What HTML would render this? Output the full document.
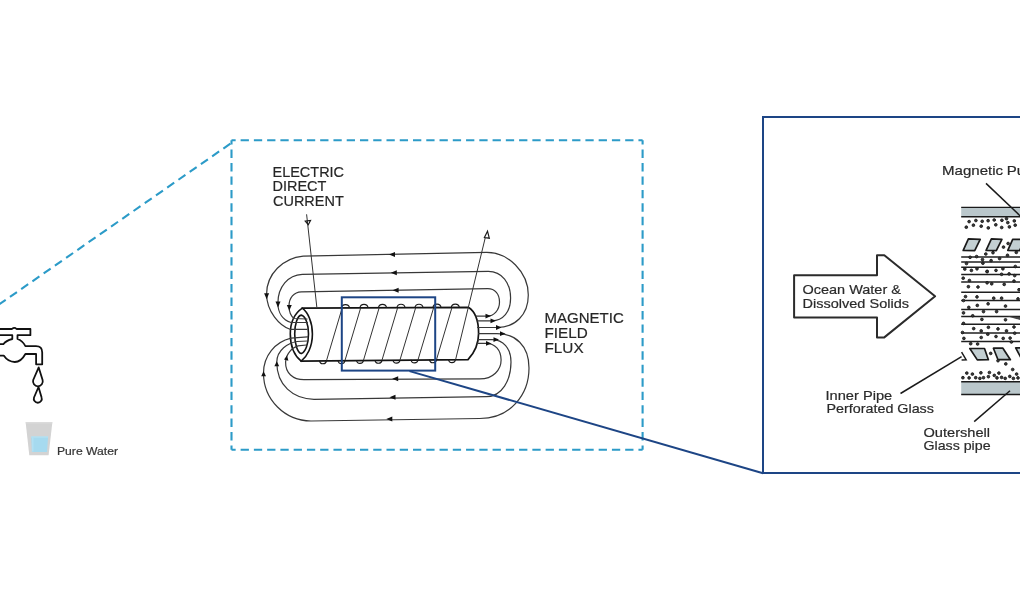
<!DOCTYPE html>
<html><head><meta charset="utf-8"><style>
html,body{margin:0;padding:0;background:#fff;width:1020px;height:610px;overflow:hidden}
svg{display:block;will-change:transform}
text{font-family:"Liberation Sans",sans-serif;stroke:#2a2a2a;stroke-width:0.2}
</style></head><body>
<svg width="1020" height="610" viewBox="0 0 1020 610">
<!-- cyan dashed callout -->
<g stroke="#2c9bc8" stroke-width="2.1" fill="none">
<line x1="230.6" y1="143.5" x2="-5" y2="307.3" stroke-dasharray="8.5 5.18" stroke-dashoffset="-0.3"/>
<line x1="231.5" y1="140.3" x2="642.6" y2="140.3" stroke-dasharray="8.288 4.973" stroke-dashoffset="4.144"/>
<line x1="231.5" y1="140.3" x2="231.5" y2="449.7" stroke-dasharray="8.408 5.045" stroke-dashoffset="4.204"/>
<line x1="642.6" y1="140.3" x2="642.6" y2="449.7" stroke-dasharray="8.408 5.045" stroke-dashoffset="4.204"/>
<line x1="231.5" y1="449.7" x2="642.6" y2="449.7" stroke-dasharray="8.288 4.973" stroke-dashoffset="4.144"/>
</g>
<!-- faucet -->
<g stroke="#111" stroke-width="1.8" fill="none" stroke-linejoin="round">
<path d="M0,329 L12,329 Q14.3,326.6 16.6,329 L30.4,329 L30.4,335.2 L17.5,335.2 L17.5,339 Q22.5,340.5 25.4,346.2 L36,346.2 Q42.2,346.2 42.2,352.5 L42.2,364.3 L36.1,364.3 L36.1,354 L25.4,354 Q21,362 14.8,362 Q8,362 3.7,355.6 L0,355.6"/>
<path d="M0,335.2 L12.3,335.2 L12.3,339 Q6,340.5 3.3,344.2 L0,344.2"/>
<path d="M38.7,367.4 L42.6,380 A4.9,4.9 0 1 1 33.2,380 Z"/>
<path d="M38.5,387 L41.6,397.5 A4,4 0 1 1 34,397.5 Z"/>
</g>
<!-- glass -->
<path d="M25.6,422.1 L52.4,422.1 L48.6,455.3 L29.3,455.3 Z" fill="#d3d3d3"/>
<rect x="25.8" y="422.1" width="26.4" height="1.4" fill="#dcdcdc"/>
<path d="M31.2,436.5 L48.1,436.5 L47,452 L31.9,452 Z" fill="#a6daef"/>
<rect x="31.2" y="436.5" width="16.9" height="1" fill="#b9e3f4"/>
<rect x="32.2" y="437.5" width="1.2" height="14" fill="#b6e2f4"/>

<!-- coil diagram -->
<!-- pipe body (white fill) -->
<g stroke="#141414" stroke-width="1.7" fill="#fff">
<path d="M302.3,308.2 L468.3,307.3 C476,312 478.6,322 478.6,333.4 C478.6,344 475,352 468,359.6 L301.2,361.2 Z"/>
</g>
<g stroke="#141414" stroke-width="1.6" fill="none">
<path d="M302.3,308.2 C308,312.5 312.4,322 312.4,334 C312.4,347 307,356.5 301.2,361.2 C295.5,356.5 290.3,347 290.3,334 C290.3,321 296,312.5 302.3,308.2 Z" fill="#fff"/>
<path d="M301.3,315.1 C305.2,315.8 308.5,324 308.5,334 C308.5,344 305.5,352 301.2,353.6 C297.5,352.5 294.7,344 294.7,334 C294.7,324 297.5,315.6 301.3,315.1 Z"/>
</g>
<g stroke="#383838" stroke-width="1.2" fill="none" stroke-linecap="round">
<!-- top field loops -->
<path d="M307,329.3 L290,329.3 C280,326 266.6,312 266.6,294 C266.6,274 283,258 303.2,256.1 L486.8,252.3 C508,252.3 528.3,272 528.3,295 C528.3,315 515,327.5 497,327.5 L477.5,327.5"/>
<path d="M307.5,322.5 L291,322.5 C283,320 277.9,313 277.9,303 C277.9,287 288,275 302.3,274.4 L488.3,271.3 C502,271.3 510.6,283 510.6,298 C510.6,312 503,320.8 491.9,320.8 L477,320.8"/>
<path d="M307,319 L294,318.5 C291,316 289,312 289,306 C289,298 294,292 301.3,291.8 L487.8,288.7 C495,288.7 499.5,294 499.5,302 C499.5,310 494,316.1 487,316.1 L476,316.1"/>
<!-- bottom field loops -->
<path d="M307.5,336.8 L291,338.2 C275,342 263.5,356 263.5,373 C263.5,400 285,420.7 311,421 L479.8,418.5 C510,418.5 529,395 529,368 C529,345 515,333.7 497,333.7 L478.5,333.7"/>
<path d="M307.5,341 L297,341.5 C288,343 277,350 276.8,362 C276.6,385 293,399 314,399.3 L486.4,396.6 C502,396.6 511,380 511,362 C511,348 503,339.6 492,339.6 L478,339.6"/>
<path d="M306.5,345 L298,345.8 C292,347.5 286,354 285.6,362 C285.3,373 293,379.7 304,379.7 L479.8,378.9 C493,378.9 501.1,370 501.1,360 C501.1,350 495,343.3 486,343.3 L477,343.3"/>
</g>
<!-- windings -->
<g stroke="#333" stroke-width="1" fill="none">
<line x1="326.5" y1="360.6" x2="342.2" y2="307.9"/>
<line x1="345" y1="360.4" x2="360.7" y2="307.8"/>
<line x1="363.5" y1="360.2" x2="379.2" y2="307.7"/>
<line x1="382" y1="360.1" x2="397.7" y2="307.6"/>
<line x1="400" y1="359.9" x2="415.7" y2="307.6"/>
<line x1="418" y1="359.8" x2="433.7" y2="307.5"/>
<line x1="436.5" y1="359.6" x2="452.0" y2="307.4"/>
<line x1="455.5" y1="360" x2="485.2" y2="238"/>
<line x1="306.6" y1="214.3" x2="316.8" y2="307"/>
</g>
<g stroke="#1a1a1a" stroke-width="1.2" fill="none">
<path d="M341.5,307.9 C342.0,303.4 349.0,303.4 349.5,307.9 M360,307.8 C360.5,303.3 367.5,303.3 368,307.8 M378.5,307.7 C379.0,303.2 386.0,303.2 386.5,307.7 M397,307.6 C397.5,303.1 404.5,303.1 405,307.6 M415,307.6 C415.5,303.1 422.5,303.1 423,307.6 M433,307.5 C433.5,303.0 440.5,303.0 441,307.5 M451.3,307.4 C451.8,302.9 458.8,302.9 459.3,307.4 M319.5,360.6 C320.0,364.8 326.0,364.8 326.5,360.6 M338,360.5 C338.5,364.7 344.5,364.7 345,360.5 M356.5,360.3 C357.0,364.5 363.0,364.5 363.5,360.3 M375,360.1 C375.5,364.3 381.5,364.3 382,360.1 M393,360.0 C393.5,364.2 399.5,364.2 400,360.0 M411,359.8 C411.5,364.0 417.5,364.0 418,359.8 M429.5,359.6 C430.0,363.8 436.0,363.8 436.5,359.6 M448.5,359.5 C449.0,363.7 455.0,363.7 455.5,359.5"/>
<!-- open arrowheads -->
<path d="M305.3,221.2 L310.5,220.5 L308.3,224.7 Z"/>
<path d="M487.5,231.2 L484.4,237.6 L489.3,238.2 Z"/>
</g>
<!-- filled arrows -->
<g fill="#111">
<path d="M389,254.5 l6,-2.5 l0,5 z"/>
<path d="M390.8,272.8 l6,-2.5 l0,5 z"/>
<path d="M392.6,290.2 l6,-2.5 l0,5 z"/>
<path d="M386.3,418.9 l6,-2.5 l0,5 z"/>
<path d="M389.5,397.2 l6,-2.5 l0,5 z"/>
<path d="M392.2,378.7 l6,-2.5 l0,5 z"/>
<path d="M266.6,299.3 l-2.5,-6 l5,0 z"/>
<path d="M278,307.4 l-2.5,-6 l5,0 z"/>
<path d="M289.3,310.6 l-2.5,-5.5 l5,0 z"/>
<path d="M263.6,371.2 l-2.4,5 l4.8,0 z"/>
<path d="M276.8,361.2 l-2.4,5 l4.8,0 z"/>
<path d="M287,355.4 l-3,4.2 l4.4,1.2 z"/>
<path d="M491,316.1 l-5.5,-2.4 l0,4.8 z"/>
<path d="M496,320.8 l-5.5,-2.4 l0,4.8 z"/>
<path d="M501.5,327.5 l-5.5,-2.4 l0,4.8 z"/>
<path d="M505.5,333.7 l-5.5,-2.4 l0,4.8 z"/>
<path d="M499,339.6 l-5.5,-2.4 l0,4.8 z"/>
<path d="M491.5,343.4 l-5.5,-2.4 l0,4.8 z"/>
</g>

<!-- navy callout -->
<g stroke="#1d4585" stroke-width="2" fill="none">
<rect x="341.8" y="297.3" width="93.4" height="73.3"/>
<line x1="409.5" y1="371.1" x2="763" y2="473.3"/>
<polyline points="1030,117 763,117 763,473 1030,473"/>
</g>

<!-- big arrow -->
<path d="M794.1,275.2 L877,275.2 L877,255.3 L884.3,255.3 L935.1,296.3 L884.3,337.4 L877,337.4 L877,317.6 L794.1,317.6 Z" fill="none" stroke="#2b2b2b" stroke-width="2" stroke-linejoin="round"/>

<!-- pipe section -->
<rect x="961.2" y="207.3" width="70" height="9.4" fill="#bac7cb"/>
<rect x="961.2" y="381.8" width="70" height="12.9" fill="#bac7cb"/>
<g stroke="#1a1a1a" fill="none">
<line x1="961.2" y1="207.4" x2="1020" y2="207.4" stroke-width="1.2"/>
<line x1="961.2" y1="216.7" x2="1020" y2="216.7" stroke-width="1.6"/>
<line x1="961.2" y1="381.7" x2="1020" y2="381.7" stroke-width="1.5"/>
<line x1="961.2" y1="394.6" x2="1020" y2="394.6" stroke-width="1.5"/>
</g>
<g stroke="#1f1f1f" stroke-width="1.5">
<line x1="961.2" y1="257" x2="1020" y2="257"/>
<line x1="961.2" y1="262" x2="1020" y2="262"/>
<line x1="961.2" y1="267.3" x2="1020" y2="267.3"/>
<line x1="961.2" y1="274.5" x2="1020" y2="274.5"/>
<line x1="961.2" y1="282.1" x2="1020" y2="282.1"/>
<line x1="961.2" y1="292.3" x2="1020" y2="292.3"/>
<line x1="961.2" y1="300.5" x2="1020" y2="300.5"/>
<line x1="961.2" y1="309.5" x2="1020" y2="309.5"/>
<line x1="961.2" y1="316.5" x2="1020" y2="316.5"/>
<line x1="961.2" y1="324.3" x2="1020" y2="324.3"/>
<line x1="961.2" y1="332.9" x2="1020" y2="332.9"/>
<line x1="961.2" y1="341.4" x2="1020" y2="341.4"/>
</g>
<path d="M1007,316.3 L1020,317 L1020,320 Z" fill="#444"/>
<g fill="#c3cfd2" stroke="#1a1a1a" stroke-width="1.7" stroke-linejoin="round">
<path d="M968.4,238.9 L980.2,239.4 L974.7,250.6 L963.2,250.4 Z"/>
<path d="M991.4,238.9 L1001.9,239.3 L996.3,250.6 L986.1,250.4 Z"/>
<path d="M1012.7,239.3 L1025,239.3 L1019.5,250.6 L1007.8,250.4 Z"/>
<path d="M969.8,348.5 L984.5,348.5 L988.4,359.7 L977.3,359.9 Z"/>
<path d="M993.4,348.2 L1002.9,348.2 L1010.4,359.7 L998,359.7 Z"/>
<path d="M1015.7,347.9 L1026,347.9 L1030,359.7 L1022,359.7 Z"/>
</g>
<path d="M961.6,352.1 L966.1,359.7 L961.6,359.9" fill="none" stroke="#1a1a1a" stroke-width="1.5"/>
<g fill="#3a3a3a" stroke="#1a1a1a" stroke-width="0.9">
<circle cx="969.1" cy="221.6" r="1.35"/>
<circle cx="975.9" cy="220.5" r="1.35"/>
<circle cx="982.2" cy="221.3" r="1.35"/>
<circle cx="988.1" cy="220.7" r="1.35"/>
<circle cx="994.2" cy="220" r="1.35"/>
<circle cx="1001.9" cy="220.3" r="1.35"/>
<circle cx="1006.5" cy="218.7" r="1.35"/>
<circle cx="1014.3" cy="220.9" r="1.35"/>
<circle cx="966.3" cy="227.2" r="1.35"/>
<circle cx="973.4" cy="225.2" r="1.35"/>
<circle cx="981.2" cy="226.2" r="1.35"/>
<circle cx="988.3" cy="227.9" r="1.35"/>
<circle cx="995.8" cy="224.8" r="1.35"/>
<circle cx="1001.7" cy="227.5" r="1.35"/>
<circle cx="1007.8" cy="222.6" r="1.35"/>
<circle cx="1009.4" cy="226.9" r="1.35"/>
<circle cx="1015.2" cy="225.2" r="1.35"/>
<circle cx="970.1" cy="257.3" r="1.35"/>
<circle cx="976.6" cy="256.6" r="1.35"/>
<circle cx="985.8" cy="254" r="1.35"/>
<circle cx="993" cy="252.7" r="1.35"/>
<circle cx="1007.5" cy="255.3" r="1.35"/>
<circle cx="982.5" cy="259.6" r="1.35"/>
<circle cx="999.6" cy="258.6" r="1.35"/>
<circle cx="991.1" cy="260.6" r="1.35"/>
<circle cx="966.5" cy="263.5" r="1.35"/>
<circle cx="982.9" cy="263.2" r="1.35"/>
<circle cx="1003.5" cy="247.1" r="1.35"/>
<circle cx="1008.1" cy="243.5" r="1.35"/>
<circle cx="1016.3" cy="252.4" r="1.35"/>
<circle cx="964.8" cy="269.1" r="1.35"/>
<circle cx="971.4" cy="270.4" r="1.35"/>
<circle cx="977" cy="268.8" r="1.35"/>
<circle cx="987.1" cy="271.4" r="1.35"/>
<circle cx="996" cy="270.4" r="1.35"/>
<circle cx="1002.9" cy="268.8" r="1.35"/>
<circle cx="1015.3" cy="266.5" r="1.35"/>
<circle cx="987.1" cy="271.6" r="1.35"/>
<circle cx="1001.6" cy="274.3" r="1.35"/>
<circle cx="1009.1" cy="273.9" r="1.35"/>
<circle cx="1014.7" cy="275.6" r="1.35"/>
<circle cx="963.2" cy="278.2" r="1.35"/>
<circle cx="969.4" cy="280.5" r="1.35"/>
<circle cx="987.1" cy="282.8" r="1.35"/>
<circle cx="991.7" cy="283.8" r="1.35"/>
<circle cx="1004.2" cy="284.4" r="1.35"/>
<circle cx="1014" cy="281.1" r="1.35"/>
<circle cx="968.4" cy="286.7" r="1.35"/>
<circle cx="978" cy="287" r="1.35"/>
<circle cx="1019" cy="289.7" r="1.35"/>
<circle cx="965.5" cy="296.6" r="1.35"/>
<circle cx="977" cy="296.9" r="1.35"/>
<circle cx="993.7" cy="298.2" r="1.35"/>
<circle cx="1001.6" cy="298.2" r="1.35"/>
<circle cx="1018" cy="298.9" r="1.35"/>
<circle cx="963.5" cy="300.5" r="1.35"/>
<circle cx="977.3" cy="305.4" r="1.35"/>
<circle cx="988.1" cy="303.8" r="1.35"/>
<circle cx="1005.5" cy="306.1" r="1.35"/>
<circle cx="968.8" cy="307.4" r="1.35"/>
<circle cx="963.5" cy="312.9" r="1.35"/>
<circle cx="983.5" cy="311.6" r="1.35"/>
<circle cx="996.6" cy="311.6" r="1.35"/>
<circle cx="972.7" cy="315.8" r="1.35"/>
<circle cx="981.9" cy="319.4" r="1.35"/>
<circle cx="1005.5" cy="319.8" r="1.35"/>
<circle cx="963.5" cy="323.4" r="1.35"/>
<circle cx="973.7" cy="328.6" r="1.35"/>
<circle cx="988.4" cy="327.3" r="1.35"/>
<circle cx="998" cy="328.9" r="1.35"/>
<circle cx="1014" cy="327" r="1.35"/>
<circle cx="981.2" cy="330.9" r="1.35"/>
<circle cx="1006.5" cy="330.9" r="1.35"/>
<circle cx="962.5" cy="332.5" r="1.35"/>
<circle cx="987.8" cy="334.2" r="1.35"/>
<circle cx="1014.7" cy="333.2" r="1.35"/>
<circle cx="963.9" cy="338.4" r="1.35"/>
<circle cx="981.2" cy="337.5" r="1.35"/>
<circle cx="996" cy="336.5" r="1.35"/>
<circle cx="1003.2" cy="338.4" r="1.35"/>
<circle cx="1010.1" cy="338.1" r="1.35"/>
<circle cx="970.7" cy="343.7" r="1.35"/>
<circle cx="977.6" cy="344" r="1.35"/>
<circle cx="1011.4" cy="342" r="1.35"/>
<circle cx="990.7" cy="353.4" r="1.35"/>
<circle cx="998" cy="360.7" r="1.35"/>
<circle cx="1005.8" cy="363.9" r="1.35"/>
<circle cx="1012.7" cy="369.5" r="1.35"/>
<circle cx="966.8" cy="373.1" r="1.35"/>
<circle cx="972.4" cy="374.1" r="1.35"/>
<circle cx="980.9" cy="372.8" r="1.35"/>
<circle cx="989.4" cy="372.5" r="1.35"/>
<circle cx="998.9" cy="373.1" r="1.35"/>
<circle cx="1016.6" cy="374.1" r="1.35"/>
<circle cx="962.9" cy="377.7" r="1.35"/>
<circle cx="969.1" cy="377.9" r="1.35"/>
<circle cx="975.7" cy="377.7" r="1.35"/>
<circle cx="979.9" cy="378.4" r="1.35"/>
<circle cx="983.5" cy="377.7" r="1.35"/>
<circle cx="988.4" cy="376.7" r="1.35"/>
<circle cx="994.3" cy="375.4" r="1.35"/>
<circle cx="997" cy="377.9" r="1.35"/>
<circle cx="1001.6" cy="377.4" r="1.35"/>
<circle cx="1005.2" cy="378.4" r="1.35"/>
<circle cx="1009.8" cy="376.4" r="1.35"/>
<circle cx="1013.4" cy="378.4" r="1.35"/>
<circle cx="1018" cy="377.9" r="1.35"/>
</g>
<g stroke="#1a1a1a" stroke-width="1.5" fill="none">
<line x1="986" y1="183.4" x2="1022" y2="217.6"/>
<line x1="900.5" y1="393.5" x2="961.6" y2="356.6"/>
<line x1="974.2" y1="421.6" x2="1010" y2="390.7"/>
</g>
<!-- texts -->
<g>
<text x="57.00" y="455.4" font-size="10.6" textLength="60.99" lengthAdjust="spacingAndGlyphs" fill="#3a3a3a">Pure Water</text>
<text x="272.50" y="176.6" font-size="14.6" textLength="71.57" lengthAdjust="spacingAndGlyphs" fill="#262626">ELECTRIC</text>
<text x="272.50" y="191.3" font-size="14.6" textLength="53.93" lengthAdjust="spacingAndGlyphs" fill="#262626">DIRECT</text>
<text x="273.00" y="205.9" font-size="14.6" textLength="70.76" lengthAdjust="spacingAndGlyphs" fill="#262626">CURRENT</text>
<text x="544.50" y="323.4" font-size="14.6" textLength="79.23" lengthAdjust="spacingAndGlyphs" fill="#262626">MAGNETIC</text>
<text x="544.50" y="337.8" font-size="14.6" textLength="43.16" lengthAdjust="spacingAndGlyphs" fill="#262626">FIELD</text>
<text x="544.50" y="352.6" font-size="14.6" textLength="39.11" lengthAdjust="spacingAndGlyphs" fill="#262626">FLUX</text>
<text x="802.50" y="294.1" font-size="12.8" textLength="98.42" lengthAdjust="spacingAndGlyphs" fill="#2b2b2b">Ocean Water &amp;</text>
<text x="802.50" y="307.6" font-size="12.8" textLength="106.49" lengthAdjust="spacingAndGlyphs" fill="#2b2b2b">Dissolved Solids</text>
<text x="942.00" y="175.1" font-size="12.8" textLength="61.14" lengthAdjust="spacingAndGlyphs" fill="#2b2b2b">Magnetic</text>
<text x="825.50" y="399.8" font-size="12.8" textLength="66.74" lengthAdjust="spacingAndGlyphs" fill="#2b2b2b">Inner Pipe</text>
<text x="826.50" y="413" font-size="12.8" textLength="107.43" lengthAdjust="spacingAndGlyphs" fill="#2b2b2b">Perforated Glass</text>
<text x="923.50" y="436.5" font-size="12.8" textLength="66.53" lengthAdjust="spacingAndGlyphs" fill="#2b2b2b">Outershell</text>
<text x="923.50" y="449.7" font-size="12.8" textLength="67.07" lengthAdjust="spacingAndGlyphs" fill="#2b2b2b">Glass pipe</text>
<text x="1006.8" y="175.1" font-size="12.8" textLength="18.4" lengthAdjust="spacingAndGlyphs" fill="#2b2b2b">Pu</text>
</g>
</svg>
</body></html>
